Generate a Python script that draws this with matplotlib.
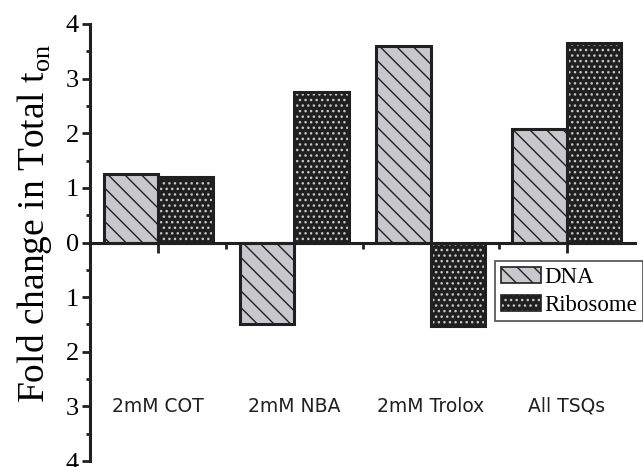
import matplotlib.pyplot as plt
from matplotlib.patches import Patch
from matplotlib.ticker import MultipleLocator, FixedLocator, FuncFormatter
import numpy as np

categories = ['2mM COT', '2mM NBA', '2mM Trolox', 'All TSQs']
dna = [1.26, -1.50, 3.60, 2.08]
ribosome = [1.19, 2.76, -1.53, 3.65]

plt.rcParams['font.family'] = 'Liberation Serif'
plt.rcParams['mathtext.fontset'] = 'custom'
plt.rcParams['mathtext.rm'] = 'Liberation Serif'
plt.rcParams['hatch.linewidth'] = 1.0

fig = plt.figure(figsize=(6.43, 4.67), dpi=100)
ax = fig.add_axes([90/643, 6/467, 545/643, 437/467])

x = np.arange(len(categories))
w = 0.4
dna_col = '#c8c8cc'
rib_col = '#202020'

# fill + hatch, then black outline on top
ax.bar(x - w/2, dna, w, color=dna_col, edgecolor='#202020', hatch='\\\\', linewidth=0, zorder=2)
ax.bar(x + w/2, ribosome, w, color=rib_col, edgecolor='#c8c8c8', hatch='...', linewidth=0, zorder=2)
ax.bar(x - w/2, dna, w, fill=False, edgecolor='#202020', linewidth=2.2, zorder=3)
ax.bar(x + w/2, ribosome, w, fill=False, edgecolor='#202020', linewidth=2.2, zorder=3)

ax.set_xlim(-0.5, 3.5)
ax.set_ylim(-4, 4)

for s in ['top', 'right']:
    ax.spines[s].set_visible(False)
ax.spines['bottom'].set_position(('data', 0))
ax.spines['bottom'].set_zorder(4)
for s in ['left', 'bottom']:
    ax.spines[s].set_linewidth(2.2)
    ax.spines[s].set_color('#202020')

ax.yaxis.set_major_locator(MultipleLocator(1))
ax.yaxis.set_minor_locator(MultipleLocator(0.5))
ax.yaxis.set_major_formatter(FuncFormatter(lambda v, p: f'{abs(v):.0f}'))
ax.tick_params(axis='y', which='major', direction='out', length=6, width=2, labelsize=19, pad=2, color='#202020')
ax.tick_params(axis='y', which='minor', direction='out', length=3, width=2, color='#202020')

ax.xaxis.set_major_locator(FixedLocator(x))
ax.xaxis.set_minor_locator(FixedLocator(x[:-1] + 0.5))
ax.set_xticklabels([])
ax.tick_params(axis='x', which='major', direction='out', length=7, width=2, color='#202020')
ax.tick_params(axis='x', which='minor', direction='out', length=4, width=2, color='#202020')

for xi, lab in zip(x, categories):
    ax.text(xi, -3.0, lab, ha='center', va='center', fontsize=13.5, family='DejaVu Sans', color='#202020')

ax.set_ylabel('Fold change in Total t$_{\\mathrm{on}}$', fontsize=27)
ax.yaxis.set_label_coords(-0.066, 0.545)

h_dna = (Patch(facecolor=dna_col, edgecolor='#202020', hatch='\\\\', linewidth=0),
         Patch(fill=False, edgecolor='#202020', linewidth=1.2))
h_rib = (Patch(facecolor=rib_col, edgecolor='#c8c8c8', hatch='...', linewidth=0),
         Patch(fill=False, edgecolor='#202020', linewidth=1.2))
leg = fig.legend([h_dna, h_rib], ['DNA', 'Ribosome'], loc='upper left',
                 bbox_to_anchor=(495/643, 1 - 261/467), fontsize=16.5, frameon=True,
                 fancybox=False, handlelength=1.75, handleheight=0.7, handletextpad=0.15,
                 borderpad=0.25, labelspacing=0.3, borderaxespad=0)
leg.get_frame().set_edgecolor('#202020')
leg.get_frame().set_linewidth(1.2)

fig.savefig('out.png', dpi=100)
